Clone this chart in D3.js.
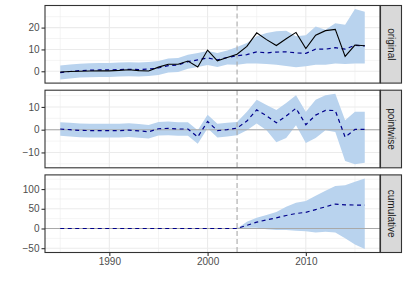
<!DOCTYPE html>
<html>
<head>
<meta charset="utf-8">
<script src="https://cdnjs.cloudflare.com/ajax/libs/d3/7.8.5/d3.min.js"></script>
<style>
    body { margin: 0; background: #fff; }
    svg { display: block; font-family: "Liberation Sans", Arial, sans-serif; }
</style>
</head>
<body>
<script>
"use strict";

// yearly data, 1985 - 2016
const years = [1985, 1986, 1987, 1988, 1989, 1990, 1991, 1992, 1993, 1994, 1995, 1996, 1997, 1998, 1999, 2000,
    2001, 2002, 2003, 2004, 2005, 2006, 2007, 2008, 2009, 2010, 2011, 2012, 2013, 2014, 2015, 2016]
const interventionYear = 2003

const original = [-0.3, -0.1, 0.0, 0.1, 0.2, 0.2, 0.4, 0.7, 0.3, 0.1, 1.9, 3.2, 3.2, 4.7, 2.0, 9.7,
    4.8, 6.3, 7.8, 11.4, 17.6, 14.5, 11.8, 14.9, 17.8, 10.4, 16.5, 18.6, 19.2, 6.8, 12.0, 11.7]
const predicted = [-0.6, -0.1, 0.3, 0.5, 0.6, 0.6, 0.8, 0.9, 0.8, 1.0, 1.5, 2.6, 2.9, 4.4, 5.2, 6.1,
    5.2, 6.3, 7.1, 7.6, 8.9, 8.4, 8.8, 8.9, 8.4, 8.2, 10.1, 10.1, 10.8, 10.1, 11.9, 11.6]
const predictedLower = [-3.8, -3.3, -2.9, -2.7, -2.6, -2.6, -2.4, -2.3, -2.4, -2.2, -1.7, -0.6, -0.3, 1.2, 2.0, 2.9,
    2.0, 3.1, 3.0, 3.6, 3.6, 3.3, 3.0, 2.4, 1.8, 2.3, 3.0, 3.0, 3.6, 3.3, 3.6, 3.6]
const predictedUpper = [2.6, 3.1, 3.5, 3.7, 3.8, 3.8, 4.0, 4.1, 4.0, 4.2, 4.7, 5.8, 6.1, 7.6, 8.4, 9.3,
    8.4, 9.5, 11.1, 13.0, 16.0, 17.5, 18.3, 18.6, 16.0, 16.5, 20.5, 19.0, 22.0, 21.3, 28.5, 27.3]

const pointwise = [0.3, 0.0, -0.3, -0.4, -0.4, -0.4, -0.4, -0.2, -0.5, -0.9, 0.4, 0.6, 0.3, 0.3, -3.2, 3.6,
    -0.4, 0.0, 0.7, 3.8, 8.7, 6.1, 3.0, 6.0, 9.4, 2.2, 6.4, 8.5, 8.4, -3.3, 0.1, 0.1]
const pointwiseLower = [-2.7, -3.0, -3.3, -3.4, -3.4, -3.4, -3.4, -3.2, -3.5, -3.9, -2.6, -2.4, -2.7, -2.7, -6.2, 0.6,
    -3.4, -3.0, -2.5, -0.3, 2.7, -0.3, -5.5, -3.7, 1.9, -5.8, -3.7, -0.3, -1.0, -13.8, -15.2, -14.5]
const pointwiseUpper = [3.3, 3.0, 2.7, 2.6, 2.6, 2.6, 2.6, 2.8, 2.5, 2.1, 3.4, 3.6, 3.3, 3.3, -0.2, 6.6,
    2.6, 3.0, 3.4, 7.9, 13.1, 10.9, 8.7, 11.7, 15.1, 7.9, 13.1, 15.1, 15.8, 4.2, 7.9, 7.9]

const cumulative = [0, 0, 0, 0, 0, 0, 0, 0, 0, 0, 0, 0, 0, 0, 0, 0,
    0, 0, 0, 8, 16, 22, 27, 33, 38, 41, 48, 55, 62, 60, 59.5, 59.5]
const cumulativeLower = [0, 0, 0, 0, 0, 0, 0, 0, 0, 0, 0, 0, 0, 0, 0, 0,
    0, 0, 0, 1.7, 1.7, -1.7, -4, -4, -5.8, -6.8, -10, -8.5, -10, -25, -40.6, -52]
const cumulativeUpper = [0, 0, 0, 0, 0, 0, 0, 0, 0, 0, 0, 0, 0, 0, 0, 0,
    0, 0, 0, 17, 27, 34, 42, 55, 65, 69.5, 83, 95.7, 108, 110, 118.5, 127]

const xTicks = [1990, 2000, 2010]
const xMinor = [1985, 1995, 2005, 2015]

const panelNames = ["original", "pointwise", "cumulative"]
const yTicks = [[0, 10, 20], [-10, 0, 10], [-50, 0, 50, 100]]
const yMinor = [[5, 15, 25], [-15, -5, 5, 15], [-25, 25, 75, 125]]

;(function(){
    const measurements = {
        width: 407,
        height: 291,
        left: 45,
        right: 380,
        firstTop: 5.5,
        panelHeight: 77.6,
        panelGap: 7.1,
        stripWidth: 21
    }

    const colors = {
        band: "#B9D3EE",
        mean: "#00008B",
        grid: "#EBEBEB",
        border: "#333333",
        ref: "#A9A9A9",
        text: "#4D4D4D",
        strip: "#D9D9D9"
    }

    const panels = [
        { mean: predicted, lower: predictedLower, upper: predictedUpper, actual: original, zero: false },
        { mean: pointwise, lower: pointwiseLower, upper: pointwiseUpper, actual: null, zero: true },
        { mean: cumulative, lower: cumulativeLower, upper: cumulativeUpper, actual: null, zero: true }
    ]

    const svgContainer = d3.select("body").append("svg")
        .attr("width", measurements.width)
        .attr("height", measurements.height)

    // shared x scale with ggplot style 5% padding
    const xExtent = d3.extent(years)
    const xPad = (xExtent[1] - xExtent[0]) * 0.05
    const scaleX = d3.scaleLinear()
        .domain([xExtent[0] - xPad, xExtent[1] + xPad])
        .range([measurements.left, measurements.right])

    panels.forEach(function(p, i) {
        const top = measurements.firstTop + i * (measurements.panelHeight + measurements.panelGap)
        const bottom = top + measurements.panelHeight

        let all = p.lower.concat(p.upper, p.mean)
        if (p.actual) all = all.concat(p.actual)
        const lo = d3.min(all), hi = d3.max(all)
        const pad = (hi - lo) * 0.05
        const scaleY = d3.scaleLinear()
            .domain([lo - pad, hi + pad])
            .range([bottom, top])

        drawPanel(i, p, scaleY, top, bottom)
    })

    function drawPanel(i, p, scaleY, top, bottom) {
        const g = svgContainer.append("g")

        // clip so lines stay in the panel
        g.append("clipPath").attr("id", "clip" + i)
            .append("rect")
            .attr("x", measurements.left)
            .attr("y", top)
            .attr("width", measurements.right - measurements.left)
            .attr("height", bottom - top)

        // grid lines
        g.selectAll(".yminor")
            .data(yMinor[i].filter(v => scaleY(v) > top && scaleY(v) < bottom))
            .enter().append("line")
            .attr("x1", measurements.left).attr("x2", measurements.right)
            .attr("y1", d => scaleY(d)).attr("y2", d => scaleY(d))
            .attr("stroke", colors.grid).attr("stroke-width", 0.55)
        g.selectAll(".xminor")
            .data(xMinor)
            .enter().append("line")
            .attr("x1", d => scaleX(d)).attr("x2", d => scaleX(d))
            .attr("y1", top).attr("y2", bottom)
            .attr("stroke", colors.grid).attr("stroke-width", 0.55)
        g.selectAll(".ymajor")
            .data(yTicks[i])
            .enter().append("line")
            .attr("x1", measurements.left).attr("x2", measurements.right)
            .attr("y1", d => scaleY(d)).attr("y2", d => scaleY(d))
            .attr("stroke", colors.grid).attr("stroke-width", 1.1)
        g.selectAll(".xmajor")
            .data(xTicks)
            .enter().append("line")
            .attr("x1", d => scaleX(d)).attr("x2", d => scaleX(d))
            .attr("y1", top).attr("y2", bottom)
            .attr("stroke", colors.grid).attr("stroke-width", 1.1)

        const plot = g.append("g").attr("clip-path", "url(#clip" + i + ")")

        // credible interval
        const area = d3.area()
            .x((d, j) => scaleX(years[j]))
            .y0((d, j) => scaleY(p.lower[j]))
            .y1((d, j) => scaleY(p.upper[j]))
        plot.append("path")
            .datum(p.mean)
            .attr("d", area)
            .attr("fill", colors.band)

        if (p.zero) {
            plot.append("line")
                .attr("x1", measurements.left).attr("x2", measurements.right)
                .attr("y1", scaleY(0)).attr("y2", scaleY(0))
                .attr("stroke", colors.ref).attr("stroke-width", 1.1)
        }

        // intervention marker
        plot.append("line")
            .attr("x1", scaleX(interventionYear)).attr("x2", scaleX(interventionYear))
            .attr("y1", top).attr("y2", bottom)
            .attr("stroke", colors.ref).attr("stroke-width", 1.1)
            .attr("stroke-dasharray", "5,3")

        const line = d3.line()
            .x((d, j) => scaleX(years[j]))
            .y(d => scaleY(d))

        plot.append("path")
            .datum(p.mean)
            .attr("d", line)
            .attr("fill", "none")
            .attr("stroke", colors.mean)
            .attr("stroke-width", 1.2)
            .attr("stroke-dasharray", "4,3.5")

        if (p.actual) {
            plot.append("path")
                .datum(p.actual)
                .attr("d", line)
                .attr("fill", "none")
                .attr("stroke", "#000")
                .attr("stroke-width", 1.1)
        }

        // panel border
        g.append("rect")
            .attr("x", measurements.left).attr("y", top)
            .attr("width", measurements.right - measurements.left)
            .attr("height", bottom - top)
            .attr("fill", "none")
            .attr("stroke", colors.border)
            .attr("stroke-width", 1.1)

        // y axis
        const yAxis = d3.axisLeft(scaleY)
            .tickValues(yTicks[i])
            .tickSize(3.5)
            .tickPadding(2)
        const ya = g.append("g")
            .attr("transform", "translate(" + measurements.left + ",0)")
            .call(yAxis)
        styleAxis(ya)

        // x axis only on the bottom panel
        if (i === panels.length - 1) {
            const xAxis = d3.axisBottom(scaleX)
                .tickValues(xTicks)
                .tickFormat(d3.format("d"))
                .tickSize(3.5)
                .tickPadding(2)
            const xa = g.append("g")
                .attr("transform", "translate(0," + bottom + ")")
                .call(xAxis)
            styleAxis(xa)
        }

        // facet strip
        const sx = measurements.right + 0.5
        g.append("rect")
            .attr("x", sx).attr("y", top)
            .attr("width", measurements.stripWidth)
            .attr("height", bottom - top)
            .attr("fill", colors.strip)
            .attr("stroke", colors.border)
            .attr("stroke-width", 1.1)
        g.append("text")
            .attr("transform", "translate(" + (sx + measurements.stripWidth / 2) + "," + ((top + bottom) / 2) + ")rotate(90)")
            .attr("text-anchor", "middle")
            .attr("dy", "0.35em")
            .style("font-size", "10px")
            .style("fill", "#1A1A1A")
            .text(panelNames[i])
    }

    function styleAxis(a) {
        a.select(".domain").remove()
        a.selectAll(".tick line").attr("stroke", colors.border).attr("stroke-width", 1.1)
        a.selectAll(".tick text")
            .style("font-size", "10px")
            .style("font-family", "\"Liberation Sans\", Arial, sans-serif")
            .attr("fill", colors.text)
    }
})()
</script>
</body>
</html>
